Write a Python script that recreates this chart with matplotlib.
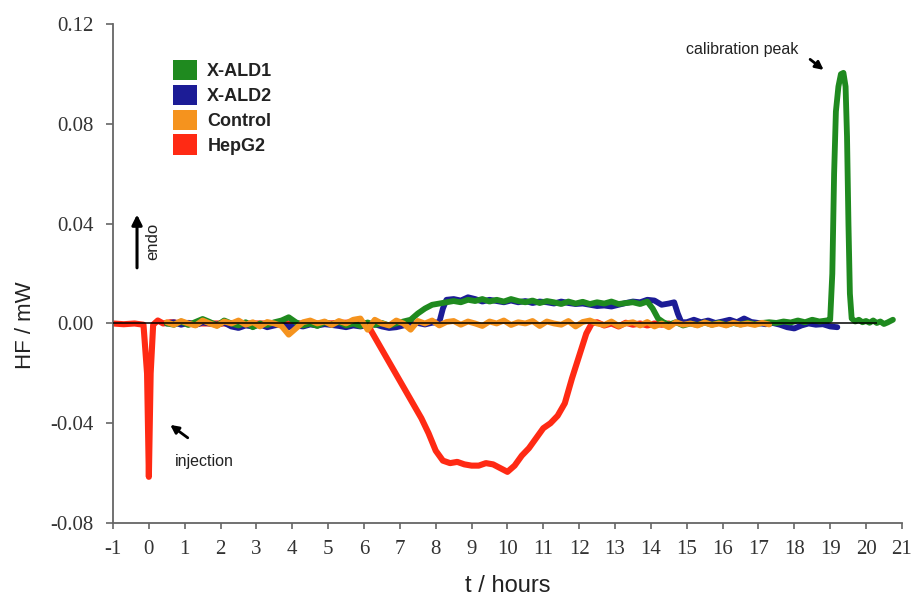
import numpy as np
import matplotlib.pyplot as plt
from matplotlib.patches import Patch

# ---- data (HF in mW, time in hours) ----
# HepG2: injection spike, then the broad trough
hep_t = [-1.0, -0.7, -0.4, -0.15, -0.05, 0.0, 0.05, 0.12, 0.25, 0.4, 0.6,
         1.0, 2.0, 3.0, 4.0, 5.0, 5.8, 6.1, 6.2, 6.4, 6.6, 6.8, 7.0, 7.2,
         7.4, 7.6, 7.8, 8.0, 8.2, 8.4, 8.6, 8.8, 9.0, 9.2, 9.4, 9.6, 9.8,
         10.0, 10.2, 10.4, 10.6, 10.8, 11.0, 11.2, 11.4, 11.6, 11.8, 12.0,
         12.2, 12.35, 12.5, 12.7, 12.9, 13.1, 13.3, 13.5, 13.7, 13.9, 14.1,
         14.3, 14.5]
hep_v = [0.0, -0.0003, 0.0, -0.0005, -0.02, -0.0615, -0.02, -0.0005, 0.0012,
         0.0, 0.0005, 0.0, 0.0, 0.0, 0.0, 0.0, 0.0005, 0.0, -0.003, -0.008,
         -0.013, -0.018, -0.023, -0.028, -0.033, -0.038, -0.044, -0.051,
         -0.055, -0.056, -0.0555, -0.0565, -0.057, -0.057, -0.056, -0.0565,
         -0.058, -0.0595, -0.057, -0.053, -0.05, -0.046, -0.042, -0.04,
         -0.037, -0.032, -0.022, -0.013, -0.004, 0.0, 0.0005, -0.0008, 0.0,
         -0.0012, 0.0003, -0.0005, 0.0, -0.0008, 0.0, -0.0005, 0.0]

# X-ALD1
ald1_noise1 = [0.0, -0.0005, 0.0008, -0.0006, 0.0006, 0.0018, 0.0006, -0.0008,
               0.0012, 0.0, -0.0008, 0.0005, -0.0015, 0.0, -0.0006, 0.0005,
               0.0012, 0.0025, 0.0005, -0.0008, 0.0, -0.001, 0.0005, -0.0004,
               0.0006, -0.0008, 0.0, -0.001, 0.0004, -0.0006, 0.0002, -0.0008,
               0.0, 0.0008, 0.0015]  # 0.5 .. 7.3 h
ald1_mid_t = [7.5, 7.7, 7.9, 8.1, 8.3, 8.5, 8.7, 8.9, 9.1, 9.3, 9.5, 9.7, 9.9,
              10.1, 10.3, 10.5, 10.7, 10.9, 11.1, 11.3, 11.5, 11.7, 11.9,
              12.1, 12.3, 12.5, 12.7, 12.9, 13.1, 13.3, 13.5, 13.7, 13.9,
              14.05, 14.2, 14.35]
ald1_mid_v = [0.004, 0.006, 0.0075, 0.008, 0.0085, 0.009, 0.0085, 0.0095,
              0.009, 0.0098, 0.0088, 0.0095, 0.0088, 0.0098, 0.009, 0.0085,
              0.0092, 0.0082, 0.009, 0.0085, 0.0078, 0.0088, 0.008, 0.0087,
              0.0078, 0.0085, 0.008, 0.0088, 0.0078, 0.0082, 0.0085, 0.0078,
              0.0088, 0.006, 0.002, 0.0005]
ald1_noise2 = [-0.0005, 0.0005, -0.0008, 0.0, -0.0006, 0.0004, -0.0005,
               0.0003, -0.0006, 0.0002, -0.0004, 0.0003, -0.0003, 0.0002,
               0.0005, 0.0002, 0.0008, 0.0004, 0.0012, 0.0005, 0.0015, 0.0008,
               0.0012]  # 14.5 .. 18.9 h
ald1_peak_t = [19.0, 19.06, 19.11, 19.16, 19.23, 19.3, 19.37, 19.43, 19.47,
               19.51, 19.55, 19.6, 19.7, 19.8, 19.9, 20.0, 20.1, 20.2, 20.3,
               20.4, 20.5, 20.6, 20.75]
ald1_peak_v = [0.0015, 0.02, 0.06, 0.085, 0.095, 0.1, 0.1005, 0.095, 0.075,
               0.04, 0.012, 0.002, 0.0008, 0.0015, 0.0005, 0.001, 0.0003,
               0.0012, 0.0002, 0.0008, -0.0002, 0.0004, 0.0015]

# X-ALD2
ald2_noise1 = [0.0, 0.0005, -0.0005, 0.0003, -0.0006, 0.0004, 0.0, -0.0005,
               0.0003, -0.0012, -0.0018, -0.0008, -0.0012, -0.0004, -0.0015,
               -0.0008, -0.0003, -0.0015, -0.0008, -0.0012, -0.0004, -0.0008,
               -0.0003, -0.0006, -0.001, -0.0015, -0.0008, -0.0012, -0.0006,
               -0.0003, -0.0012, -0.0018, -0.0015, -0.0008, -0.0003, 0.0002,
               -0.0004, 0.0003, 0.0005]  # 0.5 .. 8.1 h
ald2_mid_t = [8.2, 8.3, 8.5, 8.7, 8.9, 9.1, 9.3, 9.5, 9.7, 9.9, 10.1, 10.3,
              10.5, 10.7, 10.9, 11.1, 11.3, 11.5, 11.7, 11.9, 12.1, 12.3,
              12.5, 12.7, 12.9, 13.1, 13.3, 13.5, 13.7, 13.9, 14.1, 14.3,
              14.5, 14.65, 14.75, 14.85]
ald2_mid_v = [0.006, 0.0095, 0.0098, 0.0092, 0.0105, 0.0098, 0.0088, 0.0095,
              0.009, 0.0085, 0.0092, 0.0085, 0.009, 0.0082, 0.0088, 0.0085,
              0.008, 0.0088, 0.0082, 0.0078, 0.008, 0.0075, 0.007, 0.0072,
              0.0068, 0.0075, 0.0082, 0.0088, 0.0085, 0.0095, 0.0092, 0.0075,
              0.008, 0.0085, 0.004, 0.0005]
ald2_noise2 = [0.0005, 0.0015, 0.0005, 0.0012, 0.0002, 0.0008, 0.0015, 0.0005,
               0.002, 0.0006, 0.0002, -0.0003, 0.0002, -0.0005, -0.0015,
               -0.002, -0.0008, 0.0, -0.0005, -0.0003, -0.0012,
               -0.0015]  # 15.0 .. 19.2 h

# Control
ctrl_v = [0.0005, -0.0005, 0.001, 0.0, -0.0008, 0.0012, 0.0, -0.001, 0.0008,
          0.0, 0.0012, -0.0005, 0.0005, -0.0012, 0.0006, 0.0, -0.001, -0.0045,
          -0.002, 0.0005, 0.0012, 0.0, 0.0008, -0.0006, 0.001, 0.0, 0.0015,
          0.002, -0.0025, 0.0015, 0.0, -0.0008, 0.0012, 0.0, -0.0025, 0.001,
          0.0, 0.0012, -0.0008, 0.0006, 0.001, -0.0005, 0.0008, 0.0, -0.001,
          0.0008, 0.0, 0.0012, -0.0006, 0.0005, 0.0, 0.001, -0.001, 0.0008,
          0.0, -0.0005, 0.001, -0.0012, 0.0006, 0.0012, 0.0, -0.0006, 0.0008,
          -0.001, 0.0, 0.0005, -0.0008, 0.0006, -0.0012, 0.0, -0.0015, 0.0005,
          -0.0005, 0.0, -0.0008, 0.0004, -0.0006, 0.0, -0.0008, 0.0003,
          -0.0005, 0.0, -0.0006, 0.0003, -0.0004]  # 0.5 .. 17.3 h

BASELINE_T = [-1.0, 20.3]

x_ticks = list(range(-1, 22))
y_ticks = [-0.08, -0.04, 0.0, 0.04, 0.08, 0.12]
y_labels = ["-0.08", "-0.04", "0.00", "0.04", "0.08", "0.12"]

names = ["X-ALD1", "X-ALD2", "Control", "HepG2"]
colors = ["#1f8a1f", "#1c1c96", "#f5931e", "#ff2a14"]

# ---- assemble series ----
ald1_t = np.concatenate([np.linspace(0.5, 7.3, len(ald1_noise1)), ald1_mid_t,
                         np.linspace(14.5, 18.9, len(ald1_noise2)), ald1_peak_t])
ald1_v = np.concatenate([ald1_noise1, ald1_mid_v, ald1_noise2, ald1_peak_v])
ald2_t = np.concatenate([np.linspace(0.5, 8.1, len(ald2_noise1)), ald2_mid_t,
                         np.linspace(15.0, 19.2, len(ald2_noise2))])
ald2_v = np.concatenate([ald2_noise1, ald2_mid_v, ald2_noise2])
ctrl_t = np.linspace(0.5, 17.3, len(ctrl_v))

plt.rcParams["font.family"] = ["Liberation Sans", "DejaVu Sans"]
fig = plt.figure(figsize=(9.12, 6.06), dpi=100)
ax = fig.add_axes([0.1239, 0.137, 0.865, 0.823])

lw = 4.2
kw = dict(solid_capstyle="round", solid_joinstyle="round")
ax.plot(hep_t, hep_v, color=colors[3], lw=4.4, **kw)
ax.plot(ald2_t, ald2_v, color=colors[1], lw=lw, **kw)
ax.plot(ald1_t, ald1_v, color=colors[0], lw=lw, **kw)
ax.plot(ctrl_t, ctrl_v, color=colors[2], lw=lw, **kw)
ax.hlines(0, BASELINE_T[0], BASELINE_T[1], color="black", lw=1.1, zorder=5)

ax.set_xlim(-1, 21)
ax.set_ylim(-0.08, 0.12)
ax.set_xticks(x_ticks)
ax.set_xticklabels([str(v) for v in x_ticks])
ax.set_yticks(y_ticks)
ax.set_yticklabels(y_labels)
for lab in ax.get_xticklabels() + ax.get_yticklabels():
    lab.set_family("Liberation Serif")
    lab.set_fontsize(15)
    lab.set_color("#333333")

for s in ["top", "right"]:
    ax.spines[s].set_visible(False)
for s in ["left", "bottom"]:
    ax.spines[s].set_color("#666666")
    ax.spines[s].set_linewidth(1.3)
ax.tick_params(axis="y", direction="out", length=5, width=1.2, color="#666666", pad=9)
ax.tick_params(axis="x", direction="out", length=4.5, width=1.2, color="#666666", pad=8)

ax.set_ylabel("HF / mW", fontsize=16, color="#222222")
ax.yaxis.set_label_coords(-0.097, 0.397)
ax.set_xlabel("t / hours", fontsize=17, color="#222222")
ax.xaxis.set_label_coords(0.5, -0.105)

handles = [Patch(facecolor=c, edgecolor="none") for c in colors]
leg = ax.legend(handles, names, loc="upper left", bbox_to_anchor=(0.076, 0.928),
                frameon=False, borderpad=0, borderaxespad=0, handlelength=1.35,
                handleheight=1.35, handletextpad=0.55, labelspacing=0.25,
                prop=dict(family="Liberation Sans", weight="bold", size=13))
for t in leg.get_texts():
    t.set_color("#222222")

# annotations
ax.annotate("", xy=(18.88, 0.101), xytext=(18.38, 0.1066),
            arrowprops=dict(arrowstyle="-|>", color="black", lw=2, mutation_scale=12))
ax.text(16.54, 0.1098, "calibration peak", fontsize=11.5, ha="center", va="center",
        color="#222222")
ax.annotate("", xy=(0.534, -0.040), xytext=(1.147, -0.0465),
            arrowprops=dict(arrowstyle="-|>", color="black", lw=2, mutation_scale=12))
ax.text(0.72, -0.0553, "injection", fontsize=11.5, ha="left", va="center",
        color="#222222")
ax.annotate("", xy=(-0.33, 0.0448), xytext=(-0.33, 0.0212),
            arrowprops=dict(arrowstyle="-|>", color="black", lw=2.2, mutation_scale=15))
ax.text(0.1, 0.033, "endo", fontsize=12, rotation=90, ha="center", va="center",
        color="#222222")

fig.savefig("out.png", dpi=100)
